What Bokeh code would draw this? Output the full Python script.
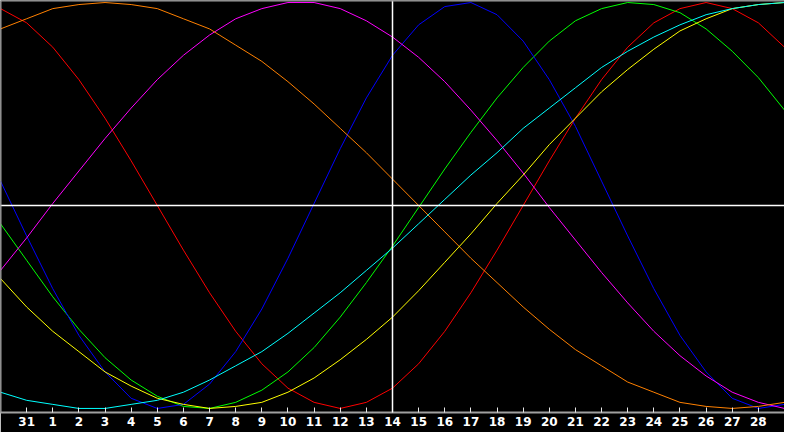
from bokeh.plotting import figure
from bokeh.models import ColumnDataSource, Span, FixedTicker
from bokeh.embed import file_html
from bokeh.resources import INLINE

# day index: -1 = 30th of previous month, 0 = 31st, 1..29 = days of month
days = list(range(-1, 30))
today = 14

tick_days = list(range(0, 29))
tick_labels = ["31", "1", "2", "3", "4", "5", "6", "7", "8", "9", "10", "11", "12", "13",
               "14", "15", "16", "17", "18", "19", "20", "21", "22", "23", "24", "25", "26",
               "27", "28"]

red = [0.97, 0.90, 0.78, 0.62, 0.43, 0.22, 0.00, -0.22, -0.43, -0.62, -0.78, -0.90, -0.97,
       -1.00, -0.97, -0.90, -0.78, -0.62, -0.43, -0.22, 0.00, 0.22, 0.43, 0.62, 0.78, 0.90,
       0.97, 1.00, 0.97, 0.90, 0.78]
blue = [0.12, -0.15, -0.41, -0.64, -0.82, -0.95, -1.00, -0.98, -0.88, -0.72, -0.51, -0.26,
        0.01, 0.28, 0.53, 0.74, 0.89, 0.98, 1.00, 0.94, 0.81, 0.62, 0.39, 0.12, -0.15, -0.41,
        -0.64, -0.82, -0.95, -1.00, -0.98]
green = [-0.09, -0.27, -0.45, -0.61, -0.75, -0.86, -0.94, -0.99, -1.00, -0.97, -0.91, -0.82,
         -0.70, -0.55, -0.38, -0.20, -0.01, 0.18, 0.36, 0.53, 0.68, 0.81, 0.91, 0.97, 1.00,
         0.99, 0.95, 0.87, 0.76, 0.63, 0.47]
magenta = [-0.32, -0.16, 0.01, 0.17, 0.33, 0.48, 0.62, 0.74, 0.84, 0.92, 0.97, 1.00, 1.00,
           0.97, 0.91, 0.83, 0.73, 0.61, 0.47, 0.32, 0.16, -0.01, -0.17, -0.33, -0.48, -0.62,
           -0.74, -0.84, -0.92, -0.97, -1.00]
orange = [0.87, 0.92, 0.97, 0.99, 1.00, 0.99, 0.97, 0.92, 0.87, 0.79, 0.71, 0.61, 0.50, 0.38,
          0.26, 0.13, 0.00, -0.13, -0.26, -0.38, -0.50, -0.61, -0.71, -0.79, -0.87, -0.92,
          -0.97, -0.99, -1.00, -0.99, -0.97]
yellow = [-0.36, -0.50, -0.62, -0.72, -0.82, -0.89, -0.95, -0.98, -1.00, -0.99, -0.97, -0.92,
          -0.85, -0.76, -0.66, -0.55, -0.42, -0.28, -0.14, 0.01, 0.15, 0.30, 0.43, 0.56, 0.67,
          0.77, 0.86, 0.92, 0.97, 0.99, 1.00]
cyan = [-0.92, -0.96, -0.98, -1.00, -1.00, -0.98, -0.96, -0.92, -0.86, -0.79, -0.72, -0.63,
        -0.53, -0.43, -0.32, -0.21, -0.09, 0.03, 0.15, 0.26, 0.38, 0.48, 0.58, 0.68, 0.76,
        0.83, 0.89, 0.94, 0.97, 0.99, 1.00]

colors = {
    "red": "#ff0000",
    "green": "#00ff00",
    "blue": "#0000ff",
    "magenta": "#ff00ff",
    "orange": "#ff8000",
    "yellow": "#ffff00",
    "cyan": "#00ffff",
}

source = ColumnDataSource(dict(day=days, red=red, green=green, blue=blue, magenta=magenta,
                               orange=orange, yellow=yellow, cyan=cyan))

p = figure(width=784, height=432, x_range=(-1, 29), y_range=(-1.02, 1.01),
           output_backend="svg", toolbar_location=None, y_axis_location=None,
           min_border=0, min_border_bottom=20,
           background_fill_color="black", border_fill_color="black")
p.grid.visible = False
p.outline_line_color = None

# zero line and "today" marker
p.add_layout(Span(location=0, dimension="width", line_color="white", line_width=1.5))
p.add_layout(Span(location=today, dimension="height", line_color="white", line_width=1.5))

# left and top frame border
p.add_layout(Span(location=-1, dimension="height", line_color="#a0a0a0", line_width=2))
p.add_layout(Span(location=1.01, dimension="width", line_color="#a0a0a0", line_width=2))

for name, color in colors.items():
    p.line("day", name, source=source, line_color=color, line_width=1)

ax = p.xaxis[0]
ax.ticker = FixedTicker(ticks=tick_days)
ax.major_label_overrides = {d: lab for d, lab in zip(tick_days, tick_labels)}
ax.axis_line_color = "#a0a0a0"
ax.axis_line_width = 2
ax.major_tick_in = 5
ax.major_tick_out = 0
ax.major_tick_line_color = "#e8e8e8"
ax.minor_tick_line_color = None
ax.major_label_text_color = "white"
ax.major_label_text_font = "DejaVu Sans"
ax.major_label_text_font_style = "bold"
ax.major_label_text_font_size = "12px"
ax.major_label_standoff = 4

open("out.html", "w").write(file_html(p, INLINE))
